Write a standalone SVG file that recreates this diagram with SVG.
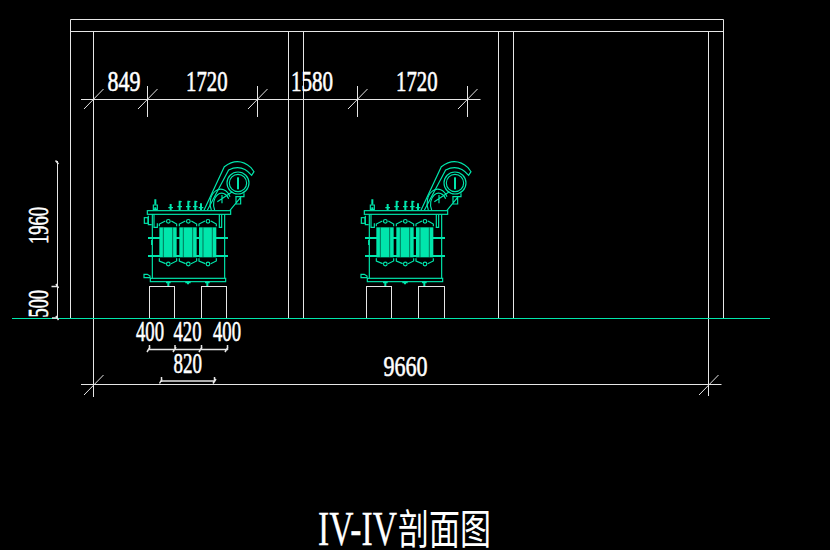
<svg xmlns="http://www.w3.org/2000/svg" xmlns:xlink="http://www.w3.org/1999/xlink" width="830" height="550" viewBox="0 0 830 550">
<style>
.w{stroke:#e6e6e6;stroke-width:1;fill:none}
.d{stroke:#e6e6e6;stroke-width:1;fill:none}
.h{stroke:#e6e6e6;stroke-width:1.500;fill:none}
.g{stroke:#00e6ac;stroke-width:1;fill:none}
.t{stroke:#00e6ac;stroke-width:3.500;fill:none}
.tk{stroke:#00e6ac;stroke-width:6;fill:none}
.f{fill:#00e6ac;stroke:none}
.s{stroke:#000;stroke-width:1.500;fill:none}
.x{fill:#fff;font-family:"Liberation Serif",serif;font-size:29px;stroke:#fff;stroke-width:.6}
.c{fill:#fff;font-family:"Noto Sans CJK SC",sans-serif;font-size:41px}
</style>
<defs>
<g id="panel">
<rect class="f" x="88" y="232" width="52" height="90"/>
<path class="s" d="M100 232V322M128 232V322"/>
<path class="t" d="M88 229V222L106 213M124 213L140 222V229M88 325V333L107 341M123 341L140 333V325"/>
<circle class="t" cx="115" cy="214" r="5.500"/>
<circle class="t" cx="115" cy="342" r="5.500"/>
</g>
<g id="transformer">
<rect class="t" x="52" y="182" width="250" height="11"/>
<path class="t" d="M67 193V385M284 193V385"/>
<rect class="t" x="61" y="385" width="226" height="10"/>
<path class="tk" d="M54 264H294M54 318H294"/>
<use xlink:href="#panel"/>
<use xlink:href="#panel" x="60"/>
<use xlink:href="#panel" x="119"/>
<rect class="t" x="43" y="203" width="11" height="17"/>
<path class="t" d="M55 197V224H65M72 193V232H82V220M268 193V232H275V193M65 270V285"/>
<path class="t" d="M42 373H52L60 378V383H42Z"/>
<path class="tk" d="M108 397H122M115 397V408M225 397H239M232 397V408M166 397H182M174 397V403"/>
<path class="tk" d="M76 148V164M76 172V180M122 162V180M149 152V180M175 152V180M196 152V180M213 160V180"/>
<path class="t" d="M70 165H82V178H70ZM115 173H129M142 170H156M168 170H182M189 170H203M206 173H220M149 155H155M175 155H181M196 155H202"/>
<path class="t" d="M222 181L283 50Q325 18 363 53L372 65L365 76Q335 40 296 60L232 181"/>
<circle class="t" cx="324" cy="99" r="33"/>
<circle class="t" cx="324" cy="99" r="26"/>
<path class="tk" d="M324 82V118"/>
<path class="t" d="M300 181L332 142M316 140H342V130M318 142V162H332V140M244 180A30 40 0 0 1 300 140M254 180A22 30 0 0 1 296 146M276 135V160M262 155L306 126"/>
</g>
</defs>
<rect width="830" height="550" fill="#000"/>
<g id="building">
<path class="w" d="M70.500 318V19.500H723.500V318M70.500 31.500H723.500"/>
<path class="w" d="M93.500 31.500V397M288.500 31.500V318M303.500 31.500V318M498.500 31.500V318M513.500 31.500V318M708.500 31.500V396"/>
<rect class="w" x="149.500" y="286.500" width="25" height="32"/>
<rect class="w" x="201.500" y="286.500" width="25" height="32"/>
<rect class="w" x="366.500" y="286.500" width="25" height="32"/>
<rect class="w" x="418.500" y="286.500" width="26" height="32"/>
</g>
<g id="transformer-1"><use xlink:href="#transformer" transform="translate(130 150) scale(.3333)"/></g>
<g id="transformer-2"><use xlink:href="#transformer" transform="translate(347 150) scale(.3333)"/></g>
<path id="ground" class="g" d="M12 318.500H770"/>
<g id="dimensions">
<path class="d" d="M81 99.500H480.500M147.500 86V117M257.500 86V117M357.500 86V117M467.500 86V117"/>
<path class="d" d="M84 109L103.500 89M138 109L157.500 89M248 109L267.500 89M348 109L367.500 89M458 109L477.500 89"/>
<path class="d" d="M57.500 161V319"/>
<path class="h" d="M55.500 160.500L58.500 164M51.500 286.500H58M56 284L58.500 288M52 318H58M56 316L58.500 320"/>
<path class="h" d="M148 349.500H228M149.500 345V350M175 345V350M201.500 345V350M227.500 345V350M147 352L150 347M173 352L176 347M199 352L202 347M225 352L228 347"/>
<path class="h" d="M161 381H215M161.500 377V382M214.500 377V382M159.500 383.500L162 379M213 383.500L216 379"/>
<path class="d" d="M81 384.500H721.500M84 395L103.500 375M699 395L718.500 375"/>
</g>
<g id="labels">
<text class="x" x="107.500" y="91" textLength="33" lengthAdjust="spacingAndGlyphs">849</text>
<text class="x" x="186" y="91" textLength="41.500" lengthAdjust="spacingAndGlyphs">1720</text>
<text class="x" x="291" y="91" textLength="42" lengthAdjust="spacingAndGlyphs">1580</text>
<text class="x" x="396" y="91" textLength="41.500" lengthAdjust="spacingAndGlyphs">1720</text>
<text class="x" x="383.500" y="376" textLength="44" lengthAdjust="spacingAndGlyphs">9660</text>
<text class="x" x="136" y="341" textLength="28" lengthAdjust="spacingAndGlyphs">400</text>
<text class="x" x="173.500" y="341" textLength="28" lengthAdjust="spacingAndGlyphs">420</text>
<text class="x" x="213" y="341" textLength="28" lengthAdjust="spacingAndGlyphs">400</text>
<text class="x" x="173.500" y="372.500" textLength="28.500" lengthAdjust="spacingAndGlyphs">820</text>
<text class="x" transform="translate(48 244) rotate(-90)" textLength="37" lengthAdjust="spacingAndGlyphs">1960</text>
<text class="x" transform="translate(48 317.500) rotate(-90)" textLength="27.500" lengthAdjust="spacingAndGlyphs">500</text>
<text class="x" x="318" y="545" style="font-size:48px;stroke-width:.3" textLength="79" lengthAdjust="spacingAndGlyphs">IV-IV</text>
<text class="c" x="398" y="544" textLength="93" lengthAdjust="spacingAndGlyphs">剖面图</text>
</g>
</svg>
